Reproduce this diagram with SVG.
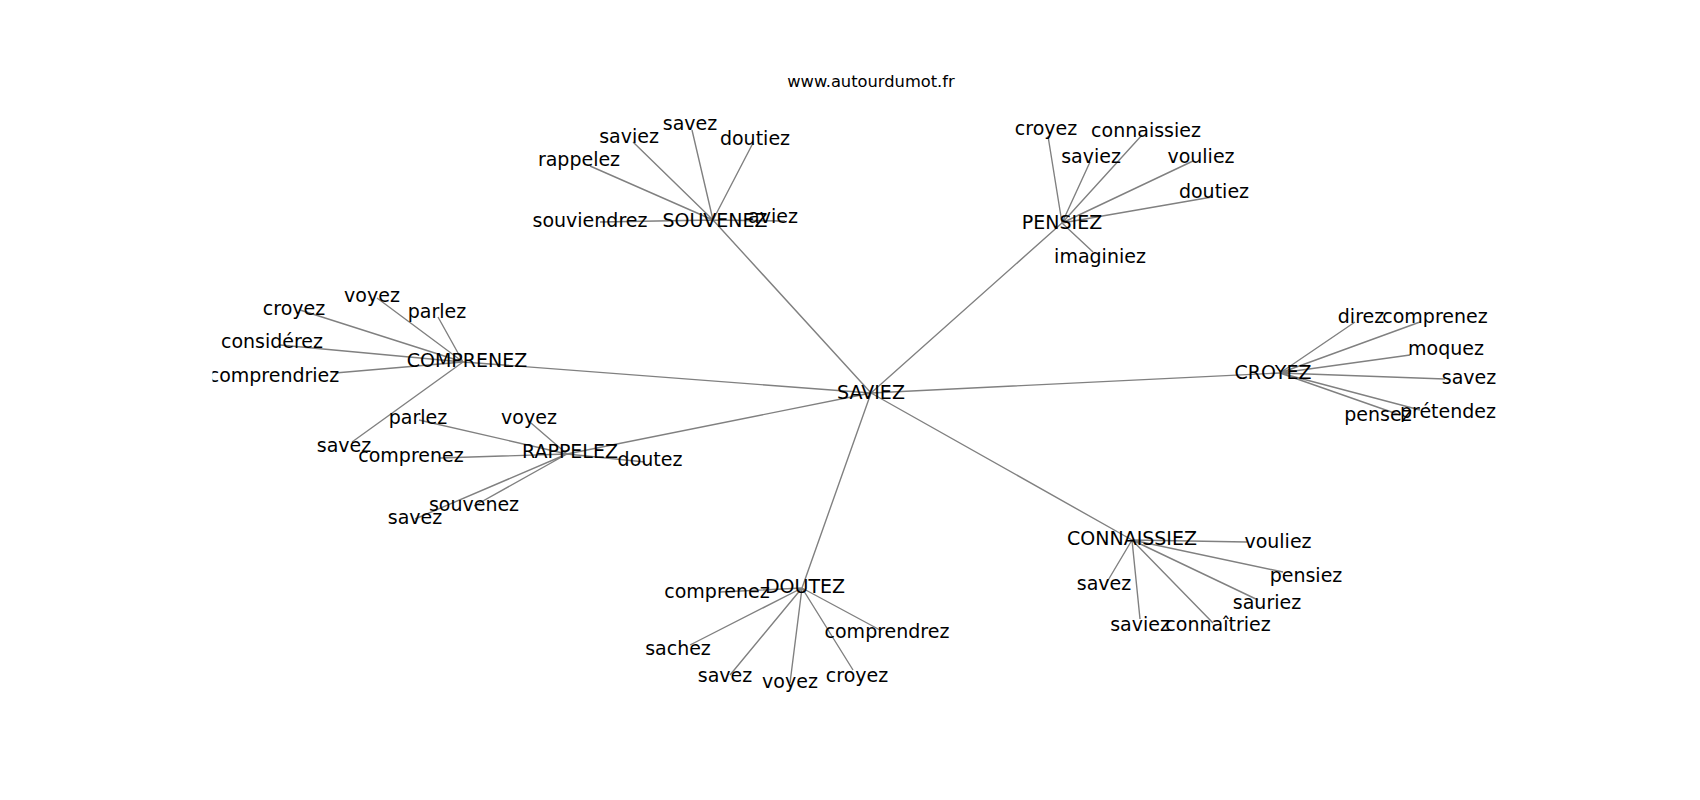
<svg xmlns="http://www.w3.org/2000/svg" width="1700" height="800" viewBox="0 0 1700 800">
<style>
.e{stroke:#808080;stroke-width:1.4;fill:none}
.l{font-family:"DejaVu Sans","Liberation Sans",sans-serif;font-size:19px;fill:#000;text-anchor:middle}
.t{font-family:"DejaVu Sans","Liberation Sans",sans-serif;font-size:16.3px;fill:#000;text-anchor:middle}
</style>
<defs><clipPath id="ax"><rect x="212.5" y="96" width="1317.5" height="616"/></clipPath></defs>
<rect width="1700" height="800" fill="#fff"/>
<text class="t" x="871" y="87">www.autourdumot.fr</text>
<g id="edges" clip-path="url(#ax)">
<path class="e" d="M871,393L463,362M871,393L567,454M871,393L713,220M871,393L1062,223M871,393L1280,373M871,393L1132,540M871,393L802,588"/>
<path class="e" d="M463,362L377,298M463,362L300,310M463,362L438,317M463,362L280,345M463,362L335,373M463,362L352,442"/>
<path class="e" d="M567,454L419,420M567,454L531,423M567,454L440,458M567,454L645,462M567,454L474,506M567,454L415,519"/>
<path class="e" d="M713,220L590,166M713,220L633,142M713,220L692,130M713,220L753,143M713,220L600,222M713,220L785,221"/>
<path class="e" d="M1062,223L1048,136M1062,223L1142,135M1062,223L1090,162M1062,223L1193,161M1062,223L1212,197M1062,223L1093,252"/>
<path class="e" d="M1280,373L1355,322M1280,373L1420,322M1280,373L1410,355M1280,373L1445,379M1280,373L1420,410M1280,373L1400,415"/>
<path class="e" d="M1132,540L1247,542M1132,540L1283,572M1132,540L1258,600M1132,540L1213,623M1132,540L1140,619M1132,540L1107,582"/>
<path class="e" d="M802,588L720,592M802,588L690,645M802,588L730,675M802,588L790,683M802,588L853,670M802,588L880,630"/>
</g>
<g clip-path="url(#ax)">
<g id="n-saviez"><text class="l" x="871" y="399">SAVIEZ</text></g>
<g id="n-comprenez"><text class="l" x="467" y="367">COMPRENEZ</text></g>
<g id="n-rappelez"><text class="l" x="570" y="458">RAPPELEZ</text></g>
<g id="n-souvenez"><text class="l" x="715" y="227">SOUVENEZ</text></g>
<g id="n-pensiez"><text class="l" x="1062" y="229">PENSIEZ</text></g>
<g id="n-croyez"><text class="l" x="1273" y="379">CROYEZ</text></g>
<g id="n-connaissiez"><text class="l" x="1132" y="545">CONNAISSIEZ</text></g>
<g id="n-doutez"><text class="l" x="805" y="593">DOUTEZ</text></g>

<g id="n-comprenez-voyez"><text class="l" x="372" y="302">voyez</text></g>
<g id="n-comprenez-croyez"><text class="l" x="294" y="315">croyez</text></g>
<g id="n-comprenez-parlez"><text class="l" x="437" y="318">parlez</text></g>
<g id="n-comprenez-considerez"><text class="l" x="272" y="348">considérez</text></g>
<g id="n-comprenez-comprendriez"><text class="l" x="274" y="382">comprendriez</text></g>
<g id="n-comprenez-savez"><text class="l" x="344" y="452">savez</text></g>

<g id="n-rappelez-parlez"><text class="l" x="418" y="424">parlez</text></g>
<g id="n-rappelez-voyez"><text class="l" x="529" y="424">voyez</text></g>
<g id="n-rappelez-comprenez"><text class="l" x="411" y="462">comprenez</text></g>
<g id="n-rappelez-doutez"><text class="l" x="650" y="466">doutez</text></g>
<g id="n-rappelez-souvenez"><text class="l" x="474" y="511">souvenez</text></g>
<g id="n-rappelez-savez"><text class="l" x="415" y="524">savez</text></g>

<g id="n-souvenez-rappelez"><text class="l" x="579" y="166">rappelez</text></g>
<g id="n-souvenez-saviez"><text class="l" x="629" y="143">saviez</text></g>
<g id="n-souvenez-savez"><text class="l" x="690" y="130">savez</text></g>
<g id="n-souvenez-doutiez"><text class="l" x="755" y="145">doutiez</text></g>
<g id="n-souvenez-souviendrez"><text class="l" x="590" y="227">souviendrez</text></g>
<g id="n-souvenez-aviez"><text class="l" x="773" y="223">aviez</text></g>

<g id="n-pensiez-croyez"><text class="l" x="1046" y="135">croyez</text></g>
<g id="n-pensiez-connaissiez"><text class="l" x="1146" y="137">connaissiez</text></g>
<g id="n-pensiez-saviez"><text class="l" x="1091" y="163">saviez</text></g>
<g id="n-pensiez-vouliez"><text class="l" x="1201" y="163">vouliez</text></g>
<g id="n-pensiez-doutiez"><text class="l" x="1214" y="198">doutiez</text></g>
<g id="n-pensiez-imaginiez"><text class="l" x="1100" y="263">imaginiez</text></g>

<g id="n-croyez-direz"><text class="l" x="1361" y="323">direz</text></g>
<g id="n-croyez-comprenez"><text class="l" x="1435" y="323">comprenez</text></g>
<g id="n-croyez-moquez"><text class="l" x="1446" y="355">moquez</text></g>
<g id="n-croyez-savez"><text class="l" x="1469" y="384">savez</text></g>
<g id="n-croyez-pretendez"><text class="l" x="1448" y="418">prétendez</text></g>
<g id="n-croyez-pensez"><text class="l" x="1378" y="421">pensez</text></g>

<g id="n-connaissiez-vouliez"><text class="l" x="1278" y="548">vouliez</text></g>
<g id="n-connaissiez-pensiez"><text class="l" x="1306" y="582">pensiez</text></g>
<g id="n-connaissiez-sauriez"><text class="l" x="1267" y="609">sauriez</text></g>
<g id="n-connaissiez-connaitriez"><text class="l" x="1218" y="631">connaîtriez</text></g>
<g id="n-connaissiez-saviez"><text class="l" x="1140" y="631">saviez</text></g>
<g id="n-connaissiez-savez"><text class="l" x="1104" y="590">savez</text></g>

<g id="n-doutez-comprenez"><text class="l" x="717" y="598">comprenez</text></g>
<g id="n-doutez-sachez"><text class="l" x="678" y="655">sachez</text></g>
<g id="n-doutez-savez"><text class="l" x="725" y="682">savez</text></g>
<g id="n-doutez-voyez"><text class="l" x="790" y="688">voyez</text></g>
<g id="n-doutez-croyez"><text class="l" x="857" y="682">croyez</text></g>
<g id="n-doutez-comprendrez"><text class="l" x="887" y="638">comprendrez</text></g>
</g>
</svg>
